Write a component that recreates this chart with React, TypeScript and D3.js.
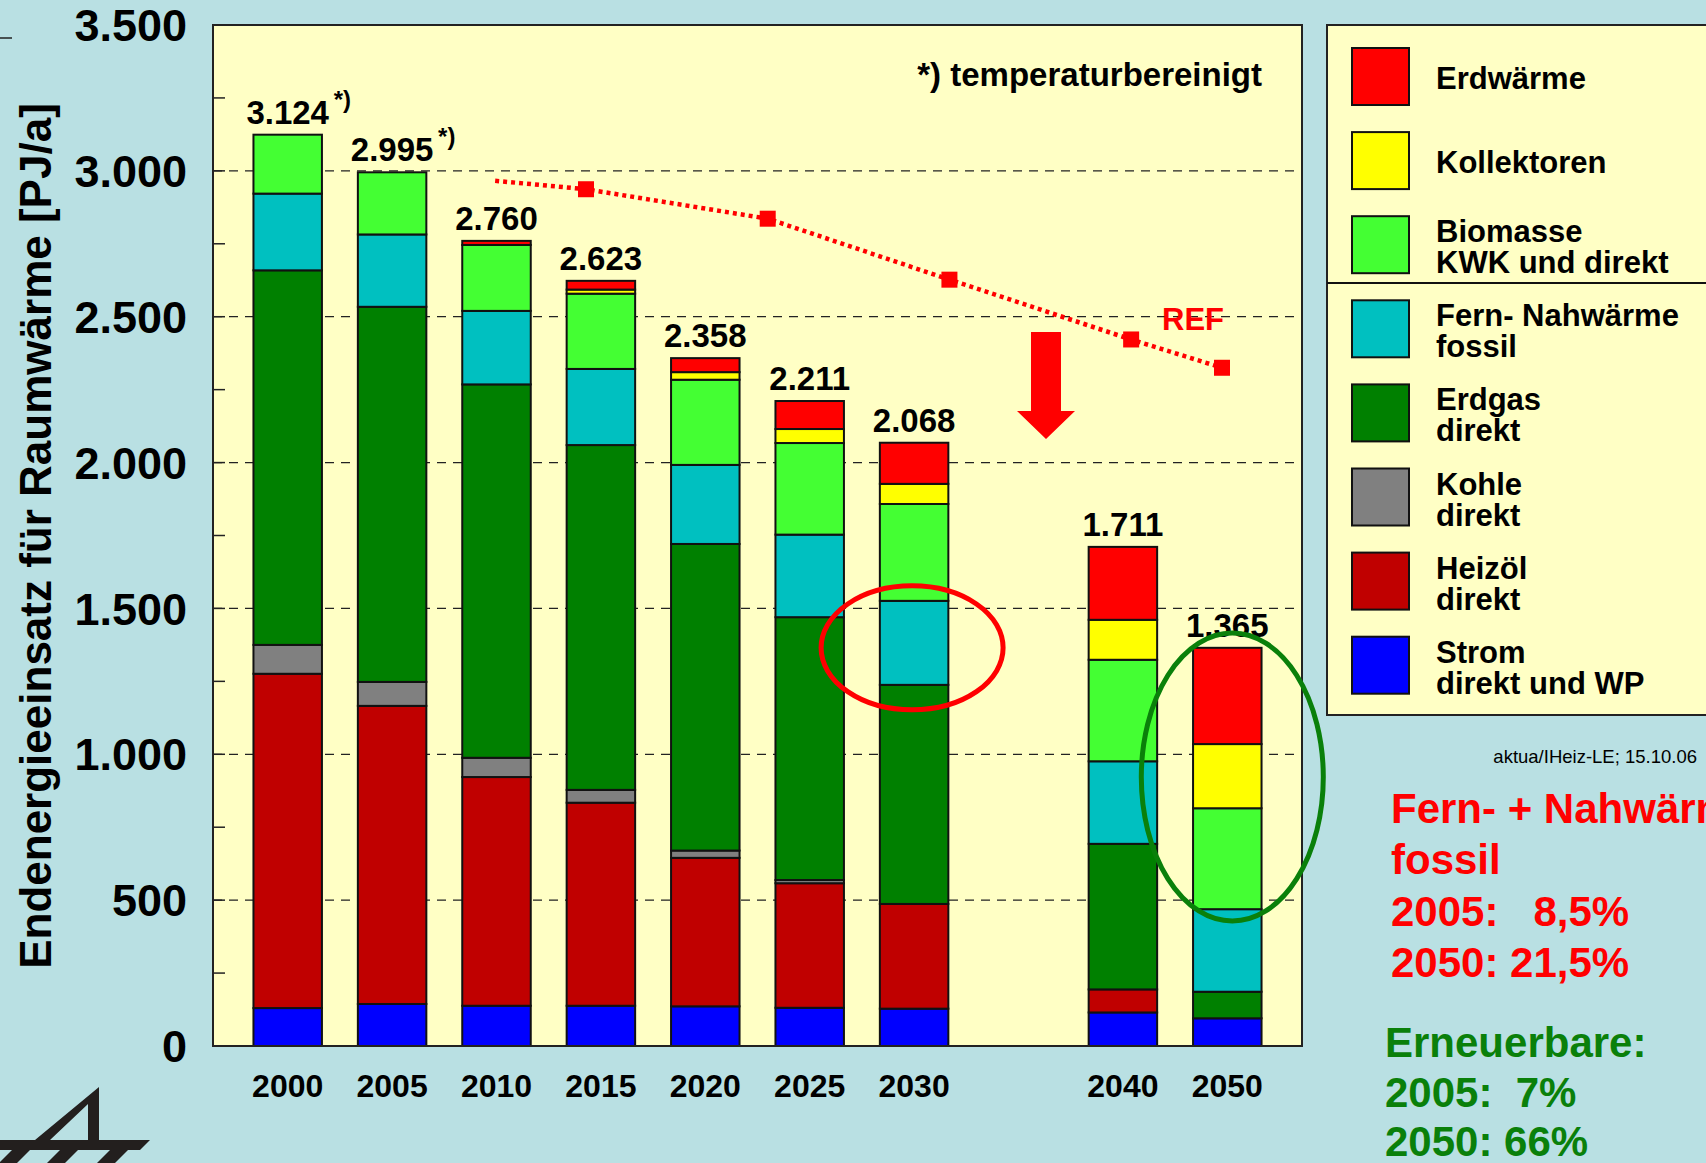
import React, { useEffect, useRef } from 'react';
import * as d3 from 'd3';

// years shown as bars, and the slots on the x axis (2035 stays empty)
const years = ['2000', '2005', '2010', '2015', '2020', '2025', '2030', '2040', '2050'];
const slots = ['2000', '2005', '2010', '2015', '2020', '2025', '2030', '2035', '2040', '2050'];
const starredYears = ['2000', '2005'];

// PJ/a per energy carrier, bottom to top of each stack
const strom = [130, 144, 138, 138, 136, 131, 128, 115, 95];
const heizoel = [1146, 1022, 784, 696, 509, 427, 359, 79, 0];
const kohle = [99, 82, 66, 44, 25, 11, 0, 0, 0];
const erdgas = [1284, 1286, 1280, 1182, 1051, 901, 751, 499, 91];
const fernwaerme = [263, 248, 252, 261, 271, 283, 288, 283, 283];
const biomasse = [202, 213, 226, 258, 292, 314, 332, 348, 346];
const kollektoren = [0, 0, 0, 14, 26, 48, 69, 137, 220];
const erdwaerme = [0, 0, 14, 30, 48, 96, 141, 250, 330];

// reference scenario (dotted red line)
const refYears = [2010, 2015, 2025, 2035, 2045, 2050];
const refValues = [2966, 2937, 2836, 2627, 2422, 2325];

const yTicks = [0, 500, 1000, 1500, 2000, 2500, 3000, 3500];

const seriesKeys = ['strom', 'heizoel', 'kohle', 'erdgas', 'fern', 'bio', 'koll', 'erdw'];
const legendOrder = ['erdw', 'koll', 'bio', 'fern', 'erdgas', 'kohle', 'heizoel', 'strom'];
const legendLabels: Record<string, string[]> = {
  erdw: ['Erdwärme'],
  koll: ['Kollektoren'],
  bio: ['Biomasse', 'KWK und direkt'],
  fern: ['Fern- Nahwärme', 'fossil'],
  erdgas: ['Erdgas', 'direkt'],
  kohle: ['Kohle', 'direkt'],
  heizoel: ['Heizöl', 'direkt'],
  strom: ['Strom', 'direkt und WP'],
};
const colors: Record<string, string> = {
  strom: '#0000ff',
  heizoel: '#c00000',
  kohle: '#808080',
  erdgas: '#008000',
  fern: '#00c0c0',
  bio: '#44ff33',
  koll: '#ffff00',
  erdw: '#ff0000',
};

const W = 1706;
const H = 1163;
const FONT = '"Liberation Sans", Arial, sans-serif';

const App = () => {
  const chartRef = useRef<SVGSVGElement>(null);

  useEffect(() => {
    document.body.style.margin = '0';
    const svg = d3.select(chartRef.current);
    svg.selectAll('*').remove();

    const margin = { top: 25, right: 404, bottom: 117, left: 213 };
    const left = margin.left;
    const right = W - margin.right;
    const top = margin.top;
    const bottom = H - margin.bottom;

    const de = d3.formatLocale({ decimal: ',', thousands: '.', grouping: [3], currency: ['', ' €'] });
    const fmt = de.format(',');

    const table = years.map((year, i) => ({
      year,
      strom: strom[i],
      heizoel: heizoel[i],
      kohle: kohle[i],
      erdgas: erdgas[i],
      fern: fernwaerme[i],
      bio: biomasse[i],
      koll: kollektoren[i],
      erdw: erdwaerme[i],
    }));
    const stacked = d3.stack<any>().keys(seriesKeys)(table);

    const xScale = d3.scaleBand()
      .domain(slots)
      .range([left, right])
      .paddingInner(0.344)
      .paddingOuter(0.3875);
    const yScale = d3.scaleLinear().domain([0, 3500]).range([bottom, top]);
    const refX = d3.scaleLinear().domain([2015, 2050]).range([586, 1222]);

    // background
    svg.append('rect').attr('width', W).attr('height', H).attr('fill', '#b9e0e3');
    svg.append('line')
      .attr('x1', 0).attr('x2', 12).attr('y1', 38).attr('y2', 38)
      .attr('stroke', '#222').attr('stroke-width', 1.5);

    // plot area
    svg.append('rect')
      .attr('x', left).attr('y', top)
      .attr('width', right - left).attr('height', bottom - top)
      .attr('fill', '#ffffc5');

    svg.append('g').selectAll('line')
      .data(yTicks.filter(v => v > 0 && v < 3500))
      .enter().append('line')
      .attr('x1', left).attr('x2', right)
      .attr('y1', d => yScale(d)).attr('y2', d => yScale(d))
      .attr('stroke', '#222').attr('stroke-width', 1.3)
      .attr('stroke-dasharray', '9,7');

    svg.append('g').selectAll('line')
      .data(d3.range(250, 3500, 250))
      .enter().append('line')
      .attr('x1', left).attr('x2', left + 12)
      .attr('y1', d => yScale(d)).attr('y2', d => yScale(d))
      .attr('stroke', '#222').attr('stroke-width', 1.5);

    // stacked bars
    svg.append('g').selectAll('g')
      .data(stacked)
      .enter().append('g')
      .attr('fill', d => colors[d.key])
      .selectAll('rect')
      .data(d => d.filter(s => s[1] - s[0] > 0))
      .enter().append('rect')
      .attr('x', d => xScale(d.data.year) as number)
      .attr('width', xScale.bandwidth())
      .attr('y', d => yScale(d[1]))
      .attr('height', d => yScale(d[0]) - yScale(d[1]))
      .attr('stroke', '#111')
      .attr('stroke-width', 2);

    svg.append('rect')
      .attr('x', left).attr('y', top)
      .attr('width', right - left).attr('height', bottom - top)
      .attr('fill', 'none').attr('stroke', '#222').attr('stroke-width', 2);

    // axis labels
    svg.append('g').selectAll('text')
      .data(yTicks)
      .enter().append('text')
      .attr('x', 187).attr('y', d => yScale(d)).attr('dy', '0.36em')
      .attr('text-anchor', 'end')
      .attr('font-family', FONT).attr('font-weight', 'bold').attr('font-size', 45)
      .text(d => fmt(d));

    svg.append('text')
      .attr('transform', 'translate(35,536) rotate(-90)')
      .attr('dy', '0.36em')
      .attr('text-anchor', 'middle')
      .attr('font-family', FONT).attr('font-weight', 'bold').attr('font-size', 44)
      .text('Endenergieeinsatz für Raumwärme [PJ/a]');

    svg.append('g').selectAll('text')
      .data(years)
      .enter().append('text')
      .attr('x', d => (xScale(d) as number) + xScale.bandwidth() / 2)
      .attr('y', 1097)
      .attr('text-anchor', 'middle')
      .attr('font-family', FONT).attr('font-weight', 'bold').attr('font-size', 32)
      .text(d => d);

    // totals above bars
    const totals = table.map(d => ({ year: d.year, total: d3.sum(seriesKeys, k => (d as any)[k]) }));
    const totalG = svg.append('g');
    totals.forEach(d => {
      const cx = (xScale(d.year) as number) + xScale.bandwidth() / 2;
      const ty = yScale(d.total) - 11;
      totalG.append('text')
        .attr('x', cx).attr('y', ty)
        .attr('text-anchor', 'middle')
        .attr('font-family', FONT).attr('font-weight', 'bold').attr('font-size', 33)
        .text(fmt(d.total));
      if (starredYears.includes(d.year)) {
        totalG.append('text')
          .attr('x', cx + 46).attr('y', ty - 16)
          .attr('font-family', FONT).attr('font-weight', 'bold').attr('font-size', 24)
          .text('*)');
      }
    });

    svg.append('text')
      .attr('x', 1262).attr('y', 86)
      .attr('text-anchor', 'end')
      .attr('font-family', FONT).attr('font-weight', 'bold').attr('font-size', 33)
      .text('*) temperaturbereinigt');

    // REF line
    const refPts = refYears.map((yr, i) => [refX(yr), yScale(refValues[i])] as [number, number]);
    svg.append('path')
      .attr('d', d3.line()(refPts))
      .attr('fill', 'none')
      .attr('stroke', '#ff0000').attr('stroke-width', 4.5)
      .attr('stroke-dasharray', '4,4');
    svg.append('g').selectAll('rect')
      .data(refPts.slice(1))
      .enter().append('rect')
      .attr('x', d => d[0] - 8).attr('y', d => d[1] - 8)
      .attr('width', 16).attr('height', 16)
      .attr('fill', '#ff0000');
    svg.append('text')
      .attr('x', 1162).attr('y', 330)
      .attr('fill', '#ff0000')
      .attr('font-family', FONT).attr('font-weight', 'bold').attr('font-size', 31)
      .text('REF');

    // arrow down
    svg.append('polygon')
      .attr('points', '1031,332 1061,332 1061,411 1075,411 1046,439 1017,411 1031,411')
      .attr('fill', '#ff0000');

    // highlight ellipses
    svg.append('ellipse')
      .attr('cx', (xScale('2030') as number) + xScale.bandwidth() / 2 - 2)
      .attr('cy', yScale(1365))
      .attr('rx', 91).attr('ry', 62)
      .attr('fill', 'none').attr('stroke', '#ff0000').attr('stroke-width', 5);
    svg.append('ellipse')
      .attr('cx', (xScale('2050') as number) + xScale.bandwidth() / 2 + 5)
      .attr('cy', yScale(922))
      .attr('rx', 91).attr('ry', 144)
      .attr('fill', 'none').attr('stroke', '#0a800a').attr('stroke-width', 5);

    // legend
    const lg = svg.append('g');
    lg.append('rect')
      .attr('x', 1327).attr('y', 25).attr('width', 420).attr('height', 690)
      .attr('fill', '#ffffc5').attr('stroke', '#222').attr('stroke-width', 2);
    lg.append('line')
      .attr('x1', 1327).attr('x2', W).attr('y1', 283).attr('y2', 283)
      .attr('stroke', '#111').attr('stroke-width', 2);
    legendOrder.forEach((key, i) => {
      const ty = 48 + i * 84.1;
      lg.append('rect')
        .attr('x', 1352).attr('y', ty).attr('width', 57).attr('height', 57)
        .attr('fill', colors[key]).attr('stroke', '#111').attr('stroke-width', 2);
      const lines = legendLabels[key];
      const baseY = lines.length === 1 ? [ty + 41] : [ty + 26, ty + 57];
      lines.forEach((ln, j) => {
        lg.append('text')
          .attr('x', 1436).attr('y', baseY[j])
          .attr('font-family', FONT).attr('font-weight', 'bold').attr('font-size', 31)
          .text(ln);
      });
    });

    svg.append('text')
      .attr('x', 1697).attr('y', 763)
      .attr('text-anchor', 'end')
      .attr('font-family', FONT).attr('font-size', 18.5)
      .text('aktua/IHeiz-LE; 15.10.06');

    // side notes
    const redLines = ['Fern- + Nahwärme', 'fossil', '2005:   8,5%', '2050: 21,5%'];
    const redY = [823, 874, 926, 977];
    redLines.forEach((t, i) => {
      svg.append('text')
        .attr('x', 1391).attr('y', redY[i])
        .attr('fill', '#ff0000')
        .attr('font-family', FONT).attr('font-weight', 'bold').attr('font-size', 42)
        .style('white-space', 'pre')
        .text(t);
    });
    const greenLines = ['Erneuerbare:', '2005:  7%', '2050: 66%'];
    const greenY = [1057, 1107, 1156];
    greenLines.forEach((t, i) => {
      svg.append('text')
        .attr('x', 1385).attr('y', greenY[i])
        .attr('fill', '#0a800a')
        .attr('font-family', FONT).attr('font-weight', 'bold').attr('font-size', 42)
        .style('white-space', 'pre')
        .text(t);
    });

    // logo bottom-left
    const logo = svg.append('g').attr('fill', '#231f1e');
    logo.append('polygon').attr('points', '99,1087 99,1140 88,1140 88,1104 50,1140 35,1140');
    logo.append('polygon').attr('points', '0,1140 150,1140 140,1150 0,1150');
    [12, 60, 110].forEach(hx => {
      logo.append('polygon')
        .attr('points', `${hx},1150 ${hx + 18},1150 ${hx + 5},1163 ${hx - 13},1163`);
    });
  }, []);

  return (
    <div style={{ width: W, height: H, overflow: 'hidden' }}>
      <svg ref={chartRef} width={W} height={H} style={{ display: 'block' }}></svg>
    </div>
  );
};

export default App;
